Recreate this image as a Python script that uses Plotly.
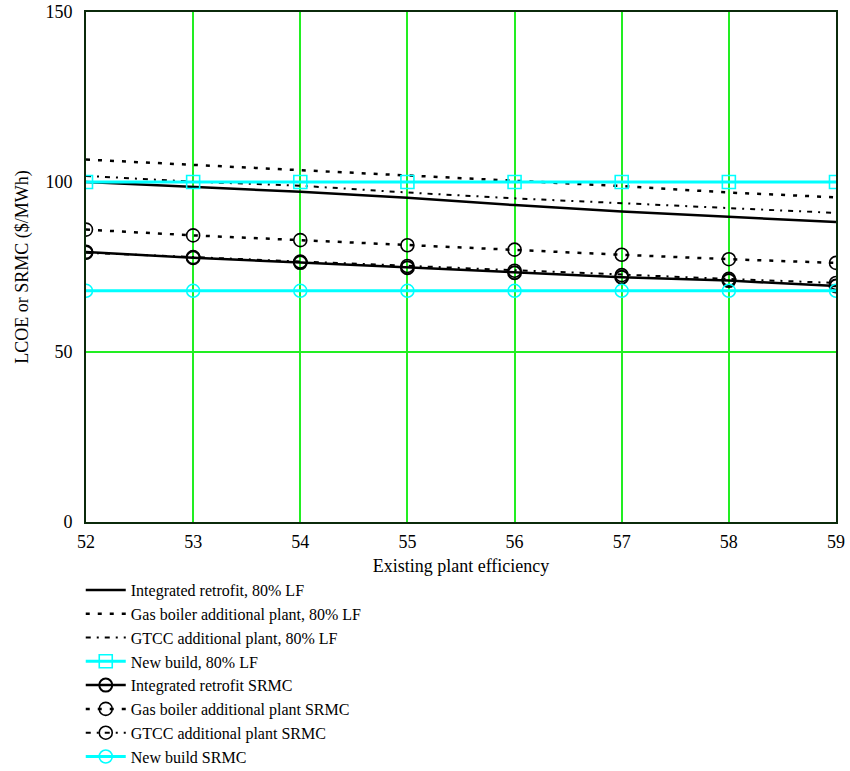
import plotly.graph_objects as go

efficiency = [52, 53, 54, 55, 56, 57, 58, 59]

integrated_lf = [100.0, 98.6, 97.1, 95.4, 93.2, 91.3, 89.7, 88.2]
gas_boiler_lf = [106.6, 105.0, 103.5, 101.9, 100.2, 98.8, 96.9, 95.5]
gtcc_lf = [101.8, 100.1, 98.9, 96.9, 95.2, 93.7, 92.2, 90.9]
new_build_lf = [100.0, 100.0, 100.0, 100.0, 100.0, 100.0, 100.0, 100.0]

integrated_srmc = [79.4, 77.7, 76.3, 74.8, 73.3, 72.0, 71.0, 69.4]
gas_boiler_srmc = [86.0, 84.3, 82.9, 81.4, 80.1, 78.6, 77.3, 76.2]
gtcc_srmc = [79.2, 77.9, 76.6, 75.3, 73.9, 72.6, 71.5, 70.3]
new_build_srmc = [68.0, 68.0, 68.0, 68.0, 68.0, 68.0, 68.0, 68.0]

y_ticks = [0, 50, 100, 150]

names = [
    "Integrated retrofit, 80% LF",
    "Gas boiler additional plant, 80% LF",
    "GTCC additional plant, 80% LF",
    "New build, 80% LF",
    "Integrated retrofit SRMC",
    "Gas boiler additional plant SRMC",
    "GTCC additional plant SRMC",
    "New build SRMC",
]

BLACK = "#000000"
CYAN = "#00FFFF"
DOT = "4px,8px"
DASHDOT = "5px,6px,2px,6px"

styles = [
    dict(y=integrated_lf, color=BLACK, width=2.5, dash="solid", symbol=None, mw=1.6),
    dict(y=gas_boiler_lf, color=BLACK, width=2.5, dash=DOT, symbol=None, mw=1.6),
    dict(y=gtcc_lf, color=BLACK, width=2, dash=DASHDOT, symbol=None, mw=1.6),
    dict(y=new_build_lf, color=CYAN, width=3, dash="solid", symbol="square-open", mw=1.6),
    dict(y=integrated_srmc, color=BLACK, width=2.5, dash="solid", symbol="circle-open", mw=2),
    dict(y=gas_boiler_srmc, color=BLACK, width=2.5, dash=DOT, symbol="circle-open", mw=1.6),
    dict(y=gtcc_srmc, color=BLACK, width=2, dash=DASHDOT, symbol="circle-open", mw=1.6),
    dict(y=new_build_srmc, color=CYAN, width=3, dash="solid", symbol="circle-open", mw=1.6),
]

fig = go.Figure()
for i, (name, s) in enumerate(zip(names, styles)):
    mode = "lines+markers" if s["symbol"] else "lines"
    kw = dict(
        x=efficiency, y=s["y"], name=name, mode=mode,
        line=dict(color=s["color"], width=s["width"], dash=s["dash"]),
    )
    if s["symbol"]:
        kw["marker"] = dict(symbol=s["symbol"], size=13, color=s["color"],
                            line=dict(color=s["color"], width=s["mw"]))
    fig.add_trace(go.Scatter(**kw))

FONT = "Liberation Serif"
AXIS_COLOR = "#0b2a0b"
GRID = "#22ee22"

fig.update_layout(
    width=850, height=771,
    margin=dict(l=86, r=14, t=12, b=249, autoexpand=False),
    paper_bgcolor="white", plot_bgcolor="white",
    font=dict(family=FONT, size=18, color="black"),
    showlegend=True,
    legend=dict(
        x=-0.007, y=-0.1, xanchor="left", yanchor="top",
        traceorder="normal",
        font=dict(family=FONT, size=16, color="black"),
        bgcolor="rgba(0,0,0,0)", itemwidth=40,
    ),
    xaxis=dict(
        range=[52, 59], tickvals=efficiency, ticktext=[str(v) for v in efficiency],
        showgrid=True, gridcolor=GRID, gridwidth=2,
        showline=True, linecolor=AXIS_COLOR, linewidth=2, mirror=True,
        zeroline=False, ticks="", tickfont=dict(size=18), ticklabelstandoff=2,
        ticklabeloverflow="allow",
        title=dict(text="Existing plant efficiency", font=dict(size=18), standoff=9),
    ),
    yaxis=dict(
        range=[0, 150], tickvals=y_ticks, ticktext=[str(v) for v in y_ticks],
        showgrid=True, gridcolor=GRID, gridwidth=2,
        showline=True, linecolor=AXIS_COLOR, linewidth=2, mirror=True,
        zeroline=False, ticks="", tickfont=dict(size=18), ticklabelstandoff=8,
        ticklabeloverflow="allow",
        title=dict(text="LCOE or SRMC ($/MWh)", font=dict(size=18), standoff=12),
    ),
)

fig.write_html(
    "out.html",
    config={"displayModeBar": False},
    post_script="document.body.style.margin='0';document.body.style.overflow='hidden';",
)
